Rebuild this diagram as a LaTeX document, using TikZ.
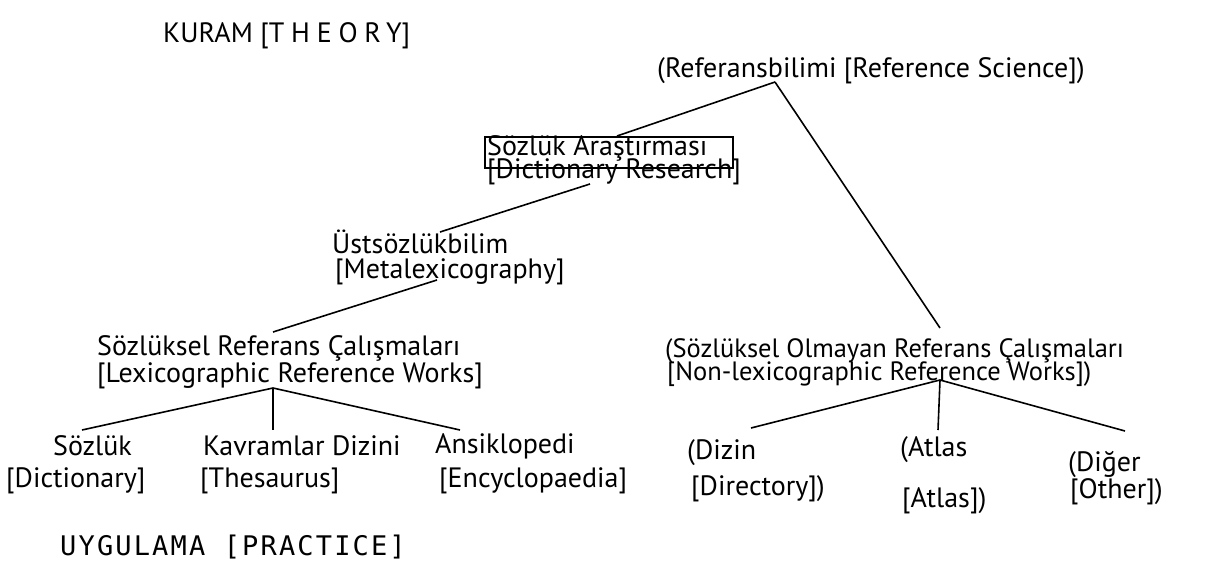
\documentclass[tikz,border=0pt]{standalone}
\usepackage{fontspec}
\setmainfont{PT Sans}
\newfontfamily\widefont[LetterSpace=24]{PT Sans}
\newfontfamily\practicefont[LetterSpace=8]{DejaVu Sans Mono}
\usetikzlibrary{positioning}

\begin{document}
\begin{tikzpicture}[x=1pt, y=-1pt,
    term/.style={anchor=base west, align=left, inner sep=0pt, font=\fontsize{28}{25}\selectfont},
    branch/.style={line width=1.6pt}]
    \useasboundingbox (0,0) rectangle (1207,562);

    % labels (placed at the baseline of their last line)
    \node[term] (theory) at (163,42) {KURAM [{\widefont THEORY}]};
    \node[term] (refsci) at (657,77) {(Referansbilimi [Reference Science])};
    \node[term] (dictres) at (487,178) {Sözlük Araştırması\\[-4pt]{}[Dictionary Research]};
    \node[term] (meta) at (332,278) {Üstsözlükbilim\\\hspace*{3pt}[Metalexicography]};
    \node[term] (lexref) at (97,382) {Sözlüksel Referans Çalışmaları\\{}[Lexicographic Reference Works]};
    \node[term, font=\fontsize{26.5}{25}\selectfont] (nonlex) at (665,380) {(Sözlüksel Olmayan Referans Çalışmaları\\[-2pt]\hspace*{2pt}[Non-lexicographic Reference Works])};
    \node[term] (dict) at (6,487) {\hspace*{47pt}Sözlük\\[7pt]{}[Dictionary]};
    \node[term] (thes) at (200,487) {\hspace*{3pt}Kavramlar Dizini\\[7pt]{}[Thesaurus]};
    \node[term] (ency) at (435,487) {Ansiklopedi\\[7pt]\hspace*{4pt}[Encyclopaedia]};
    \node[term] (dir) at (687,495) {(Dizin\\[8pt]\hspace*{4pt}[Directory])};
    \node[term] (atlas) at (900,507) {(Atlas\\[23pt]\hspace*{2pt}[Atlas])};
    \node[term] (other) at (1068,498) {(Diğer\\[-1pt]\hspace*{2pt}[Other])};
    \node[term, font=\fontsize{27}{27}\practicefont] (practice) at (60,555) {UYGULAMA [PRACTICE]};

    % box round the first line
    \draw[line width=1.4pt] (485,137) rectangle (733,168);

    % ends of the branches
    \coordinate (refsci-foot) at (775,82);
    \coordinate (dictres-head) at (617,136);
    \coordinate (dictres-foot) at (590,184);
    \coordinate (meta-head) at (440,232);
    \coordinate (meta-foot) at (437,280);
    \coordinate (lexref-head) at (273,332);
    \coordinate (lexref-foot) at (273,388);
    \coordinate (nonlex-head) at (940,328);
    \coordinate (nonlex-foot) at (940,380);
    \coordinate (dict-head) at (82,430);
    \coordinate (thes-head) at (273,430);
    \coordinate (ency-head) at (460,430);
    \coordinate (dir-head) at (751,428);
    \coordinate (atlas-head) at (938,430);
    \coordinate (other-head) at (1125,431);

    \draw[branch] (refsci-foot) -- (dictres-head);
    \draw[branch] (refsci-foot) -- (nonlex-head);
    \draw[branch] (dictres-foot) -- (meta-head);
    \draw[branch] (meta-foot) -- (lexref-head);
    \foreach \leaf in {dict, thes, ency}
        \draw[branch] (lexref-foot) -- (\leaf-head);
    \foreach \leaf in {dir, atlas, other}
        \draw[branch] (nonlex-foot) -- (\leaf-head);

\end{tikzpicture}
\end{document}
